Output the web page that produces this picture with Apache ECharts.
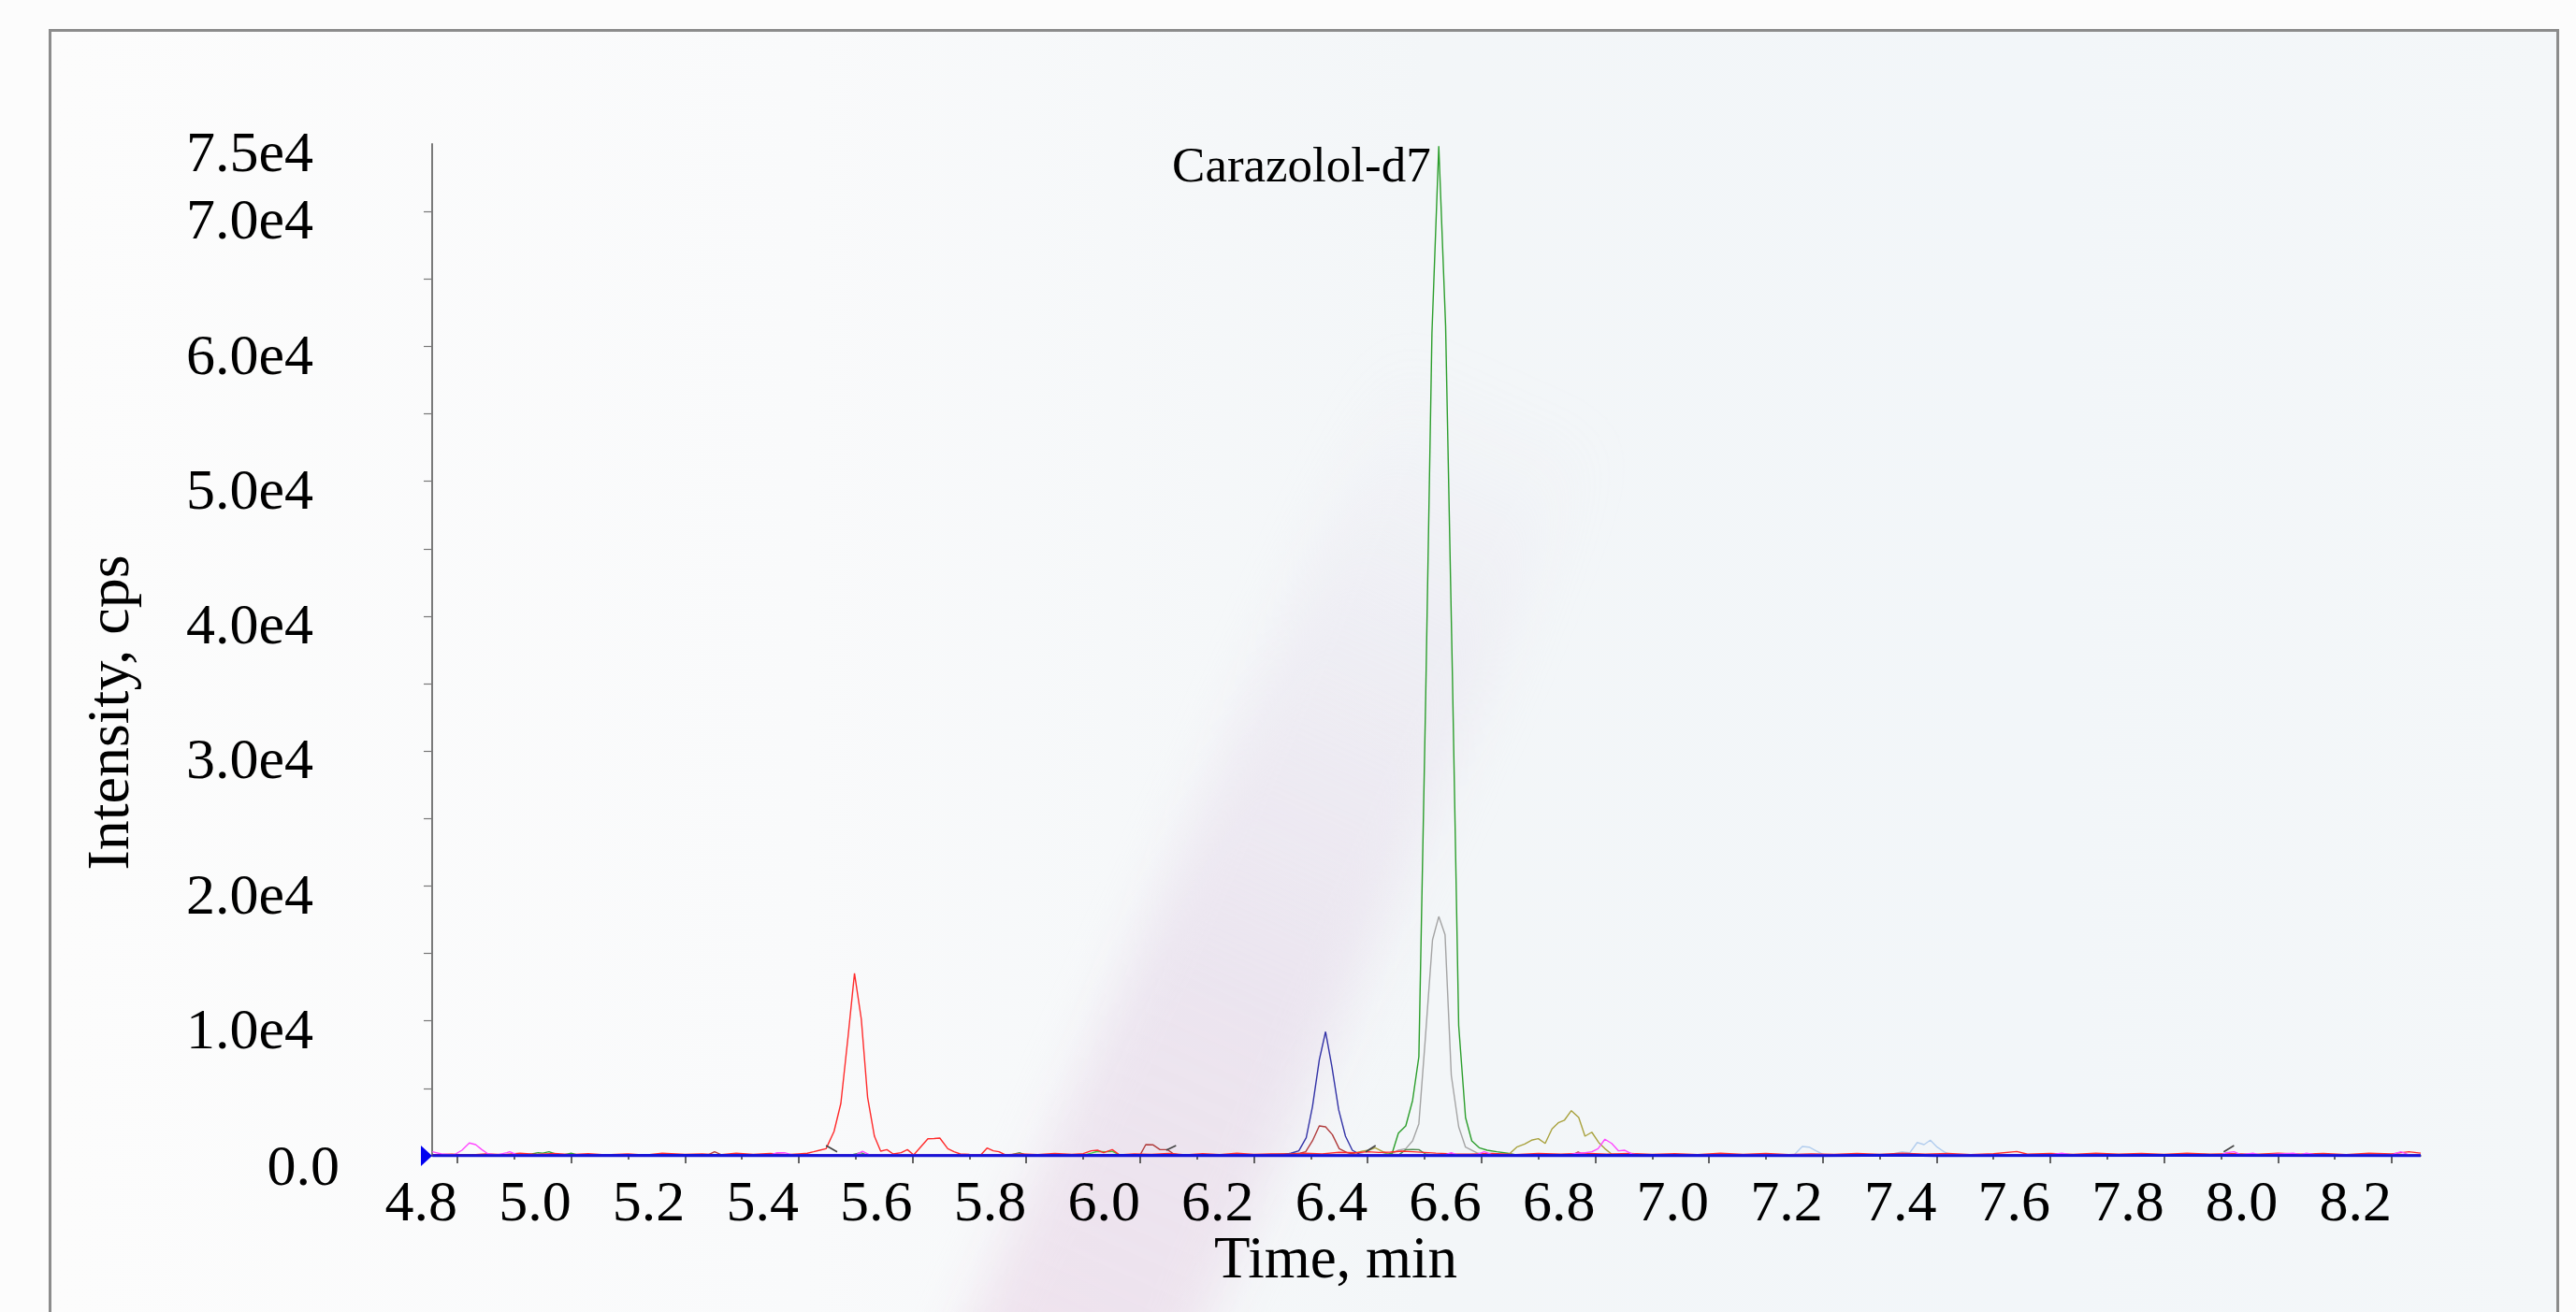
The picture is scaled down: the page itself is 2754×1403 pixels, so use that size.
<!DOCTYPE html>
<html>
<head>
<meta charset="utf-8">
<script src="https://cdn.jsdelivr.net/npm/echarts@6/dist/echarts.min.js"></script>
<style>
html,body{margin:0;padding:0;width:2754px;height:1403px;overflow:hidden;background:#fcfcfc;}
#frame{position:absolute;left:52px;top:31px;width:2678px;height:1420px;border:3px solid #8c8c8c;overflow:hidden;
background:linear-gradient(90deg,#fcfcfc 0%,#f9fafb 30%,#f3f6f8 55%,#f2f6f9 80%,#f4f7f9 100%);}
#streak{position:absolute;left:1180px;top:260px;width:230px;height:1400px;
background:linear-gradient(to top, rgba(236,214,230,0.65) 0%, rgba(228,214,232,0.55) 45%, rgba(226,218,234,0.28) 75%, rgba(226,220,236,0) 95%);
filter:blur(28px);transform:rotate(24deg);transform-origin:50% 50%;}
#chart{position:absolute;left:0;top:0;width:2754px;height:1403px;}
</style>
</head>
<body>
<div id="frame"><div id="streak"></div></div>
<div id="chart"></div>
<script>
// ---- axis definitions ----
const xMin = 4.7556, xMax = 8.251;
const xMajorTicks = [4.8,5.0,5.2,5.4,5.6,5.8,6.0,6.2,6.4,6.6,6.8,7.0,7.2,7.4,7.6,7.8,8.0,8.2];
const xMinorTicks = [4.9,5.1,5.3,5.5,5.7,5.9,6.1,6.3,6.5,6.7,6.9,7.1,7.3,7.5,7.7,7.9,8.1];
const yMax = 75000;
const yLabelValues = [10000,20000,30000,40000,50000,60000,70000,75000];
const yTickValues = [5000,10000,15000,20000,25000,30000,35000,40000,45000,50000,55000,60000,65000,70000];

// ---- traces: [time (min), intensity (cps)] ----
const redTrace = [[4.756,80],[4.79,120],[4.82,60],[4.85,150],[4.88,90],[4.91,200],[4.94,110],[4.97,180],[5.00,90],[5.03,160],[5.06,70],[5.10,140],[5.13,60],[5.16,190],[5.20,100],[5.23,150],[5.26,80],[5.29,200],[5.32,110],[5.35,170],[5.38,90],[5.40,150],[5.415,190],[5.426,300],[5.437,415],[5.448,530],[5.462,1800],[5.474,3880],[5.487,8960],[5.498,13530],[5.510,10120],[5.521,4345],[5.533,1455],[5.544,350],[5.555,460],[5.566,140],[5.580,230],[5.591,460],[5.602,70],[5.614,645],[5.627,1270],[5.638,1280],[5.648,1320],[5.662,530],[5.673,300],[5.684,140],[5.70,100],[5.720,70],[5.731,575],[5.742,370],[5.752,300],[5.763,70],[5.79,150],[5.82,90],[5.85,180],[5.88,100],[5.90,160],[5.914,370],[5.925,415],[5.936,230],[5.951,460],[5.964,70],[5.99,150],[6.02,100],[6.05,170],[6.08,80],[6.11,160],[6.14,90],[6.17,200],[6.20,110],[6.23,150],[6.26,120],[6.29,200],[6.32,150],[6.35,260],[6.38,230],[6.40,300],[6.42,250],[6.44,280],[6.46,350],[6.48,300],[6.50,250],[6.52,200],[6.55,150],[6.58,120],[6.62,180],[6.66,90],[6.70,170],[6.74,120],[6.78,200],[6.82,130],[6.86,180],[6.90,100],[6.94,160],[6.98,90],[7.02,190],[7.06,110],[7.10,170],[7.14,90],[7.18,150],[7.22,110],[7.26,180],[7.30,100],[7.34,200],[7.38,130],[7.42,170],[7.46,90],[7.50,160],[7.541,320],[7.56,120],[7.60,180],[7.64,100],[7.68,200],[7.72,130],[7.76,170],[7.80,100],[7.84,190],[7.88,120],[7.92,160],[7.96,110],[8.00,200],[8.04,120],[8.08,180],[8.12,90],[8.16,200],[8.20,150],[8.23,300],[8.251,200]];
const navyTrace = [[4.756,40],[5.2,50],[5.6,40],[6.0,60],[6.25,60],[6.265,190],[6.279,370],[6.292,1340],[6.303,3650],[6.315,7120],[6.326,9200],[6.337,6650],[6.349,3420],[6.361,1455],[6.373,416],[6.386,120],[6.40,60],[6.8,50],[7.2,40],[7.6,60],[8.0,50],[8.251,40]];
const brownTrace = [[4.756,30],[5.0,50],[5.24,60],[5.252,300],[5.265,60],[5.6,50],[5.95,60],[5.99,80],[6.0,60],[6.010,830],[6.023,810],[6.035,460],[6.048,460],[6.059,140],[6.072,60],[6.2,50],[6.281,190],[6.291,300],[6.303,1110],[6.315,2220],[6.326,2150],[6.338,1570],[6.350,530],[6.364,230],[6.378,100],[6.40,60],[6.76,60],[6.770,280],[6.780,60],[7.2,50],[7.6,60],[8.251,50]];
const greenTrace = [[4.756,30],[4.85,50],[4.90,40],[4.920,60],[4.931,140],[4.942,230],[4.950,200],[4.961,300],[4.972,140],[4.985,60],[5.0,190],[5.012,60],[5.2,50],[5.4,40],[5.6,50],[6.0,60],[6.4,50],[6.420,50],[6.443,190],[6.454,1685],[6.467,2218],[6.479,4110],[6.490,7346],[6.502,34000],[6.513,61000],[6.525,74850],[6.537,61500],[6.549,35500],[6.560,9650],[6.572,2840],[6.583,1110],[6.596,600],[6.610,416],[6.627,300],[6.646,190],[6.66,80],[6.7,50],[7.0,60],[7.4,40],[7.8,60],[8.251,50]];
const grayTrace = [[4.756,40],[5.2,50],[5.6,40],[6.0,60],[6.42,60],[6.443,190],[6.454,416],[6.467,530],[6.479,1110],[6.490,2380],[6.501,8500],[6.514,16010],[6.525,17740],[6.536,16400],[6.547,5960],[6.560,2150],[6.572,645],[6.594,190],[6.62,80],[7.0,50],[7.5,60],[8.251,40]];
const darkGreenTrace = [[4.756,20],[5.2,30],[5.49,40],[5.500,150],[5.509,230],[5.52,60],[5.77,40],[5.788,230],[5.80,40],[6.2,30],[6.455,80],[6.467,460],[6.479,480],[6.490,460],[6.502,120],[6.52,50],[7.0,40],[7.5,30],[8.251,40]];
const oliveTrace = [[4.756,20],[5.3,30],[5.9,40],[6.36,40],[6.380,230],[6.391,350],[6.402,415],[6.413,600],[6.427,300],[6.44,100],[6.5,50],[6.62,40],[6.649,140],[6.662,645],[6.676,880],[6.688,1160],[6.700,1270],[6.712,920],[6.724,1990],[6.735,2450],[6.746,2650],[6.758,3350],[6.771,2840],[6.782,1455],[6.794,1750],[6.806,990],[6.817,530],[6.829,120],[6.85,50],[7.3,40],[8.251,30]];
const magentaTrace = [[4.756,300],[4.772,140],[4.794,70],[4.808,415],[4.821,950],[4.832,830],[4.843,460],[4.854,140],[4.87,80],[4.887,230],[4.892,300],[4.905,70],[5.0,60],[5.2,80],[5.35,60],[5.362,230],[5.375,230],[5.39,60],[5.50,60],[5.512,330],[5.525,60],[5.8,60],[6.2,50],[6.535,60],[6.547,230],[6.558,60],[6.59,60],[6.605,300],[6.62,60],[6.75,60],[6.769,190],[6.782,230],[6.794,300],[6.805,530],[6.817,1230],[6.829,920],[6.841,370],[6.852,415],[6.864,140],[6.88,60],[7.3,60],[7.6,80],[7.62,200],[7.64,60],[7.9,60],[7.909,230],[7.923,300],[7.935,70],[7.956,190],[7.97,60],[8.027,200],[8.04,80],[8.05,200],[8.07,60],[8.2,80],[8.216,300],[8.23,80],[8.251,60]];
const lightBlueTrace = [[4.756,30],[5.5,40],[6.5,40],[7.140,60],[7.150,80],[7.164,690],[7.176,645],[7.188,370],[7.202,70],[7.30,60],[7.317,70],[7.339,300],[7.353,230],[7.366,990],[7.378,830],[7.389,1160],[7.401,645],[7.413,300],[7.424,70],[7.6,50],[7.85,60],[7.87,150],[7.89,50],[8.251,40]];
const lightGreenTrace = [[4.756,30],[5.5,40],[5.90,40],[5.914,200],[5.925,330],[5.940,300],[5.951,330],[5.964,60],[6.5,40],[7.5,30],[8.251,40]];
const blueBaseline = [[4.756,20],[5.2,30],[5.6,20],[6.0,30],[6.4,20],[6.8,30],[7.2,20],[7.35,60],[7.4,20],[7.8,30],[8.251,20]];
const boundaryMarks = [[[5.448,762],[5.4675,298]],[[6.0458,416],[6.0632,762]],[[6.3965,298],[6.414,762]],[[7.9047,298],[7.9228,762]]];
const peakLabel = {text:'Carazolol-d7', time:6.525, value:74850};

const SERIF = "'Liberation Serif','Times New Roman',serif";
function trace(name, data, color, width, z){
  return {name, type:'line', data, xAxisIndex:0, yAxisIndex:0, showSymbol:false, symbol:'none',
    lineStyle:{color, width}, itemStyle:{color}, z, animation:false, clip:false};
}
const series = [
  trace('gray', grayTrace, '#a4a4a4', 1.4, 2),
  trace('green', greenTrace, '#2c9e2c', 1.4, 3),
  trace('olive', oliveTrace, '#a9a23e', 1.4, 3),
  trace('lightblue', lightBlueTrace, '#b2cdee', 1.4, 3),
  trace('darkgreen', darkGreenTrace, '#4f8a4f', 1.4, 3),
  trace('lightgreen', lightGreenTrace, '#3fd03f', 1.4, 3),
  trace('brown', brownTrace, '#b03c3c', 1.4, 4),
  trace('navy', navyTrace, '#3232a6', 1.4, 4),
  trace('red', redTrace, '#ff2a2a', 1.4, 5),
  trace('magenta', magentaTrace, '#ff48ff', 1.4, 5),
];
const blue = trace('blue', blueBaseline, '#1414d8', 3, 6);
blue.markPoint = {symbol:'path://M0,0L10,5L0,10Z', symbolSize:[12,22], symbolOffset:[-6,0],
  itemStyle:{color:'#0000f0'}, label:{show:false}, silent:true, animation:false,
  data:[{coord:[xMin,0]}]};
series.push(blue);
series[1].markPoint = {symbol:'circle', symbolSize:1, itemStyle:{color:'rgba(0,0,0,0)'}, animation:false, silent:true,
  label:{show:true, position:'left', distance:8, offset:[0,24], formatter:peakLabel.text,
    fontFamily:SERIF, fontSize:53, color:'#000'},
  data:[{coord:[peakLabel.time, peakLabel.value]}]};
series.push({type:'lines', coordinateSystem:'cartesian2d', xAxisIndex:0, yAxisIndex:0, z:7, animation:false,
  lineStyle:{color:'#444', width:1.6, opacity:1}, data: boundaryMarks.map(c => ({coords:c}))});

const chart = echarts.init(document.getElementById('chart'), null, {renderer:'canvas'});
chart.setOption({
  animation:false,
  backgroundColor:'transparent',
  grid:{left:462, right:166, top:154, bottom:167, containLabel:false, outerBoundsMode:'none'},
  xAxis:[
    {type:'value', min:xMin, max:xMax, position:'bottom', splitLine:{show:false},
     axisLine:{show:true, onZero:false, lineStyle:{color:'#444', width:1.5}},
     axisTick:{show:true, customValues:xMajorTicks, length:8, lineStyle:{color:'#333', width:1.5}},
     axisLabel:{show:true, customValues:xMajorTicks, align:'right', margin:22, hideOverlap:false,
       formatter:v => v.toFixed(1), fontFamily:SERIF, fontSize:62, color:'#000'}},
    {type:'value', min:xMin, max:xMax, position:'bottom', splitLine:{show:false},
     axisLine:{show:false, onZero:false},
     axisTick:{show:true, customValues:xMinorTicks, length:4, lineStyle:{color:'#333', width:1.5}},
     axisLabel:{show:false}}
  ],
  yAxis:[
    {type:'value', min:0, max:yMax, position:'left', offset:0, splitLine:{show:false},
     axisLine:{show:true, lineStyle:{color:'#7a7a7a', width:2}},
     axisTick:{show:true, customValues:yTickValues, length:9, lineStyle:{color:'#777', width:1.2}},
     axisLabel:{show:true, customValues:yLabelValues, margin:127, verticalAlign:'top', lineHeight:26, hideOverlap:false,
       formatter:v => (v/10000).toFixed(1)+'e4', fontFamily:SERIF, fontSize:62, color:'#000'}},
    {type:'value', min:0, max:yMax, position:'left', offset:0, splitLine:{show:false},
     axisLine:{show:false}, axisTick:{show:false},
     axisLabel:{show:true, customValues:[0], margin:99, verticalAlign:'top', lineHeight:30, hideOverlap:false,
       formatter:() => '0.0', fontFamily:SERIF, fontSize:62, color:'#000'}}
  ],
  graphic:[
    {type:'text', x:120, y:762, rotation:Math.PI/2, silent:true,
     style:{text:'Intensity, cps', font:"64px 'Liberation Serif'", fill:'#000', textAlign:'center', textVerticalAlign:'middle'}},
    {type:'text', x:1428, y:1349, silent:true,
     style:{text:'Time, min', font:"63px 'Liberation Serif'", fill:'#000', textAlign:'center', textVerticalAlign:'middle'}}
  ],
  series
});
</script>
</body>
</html>
